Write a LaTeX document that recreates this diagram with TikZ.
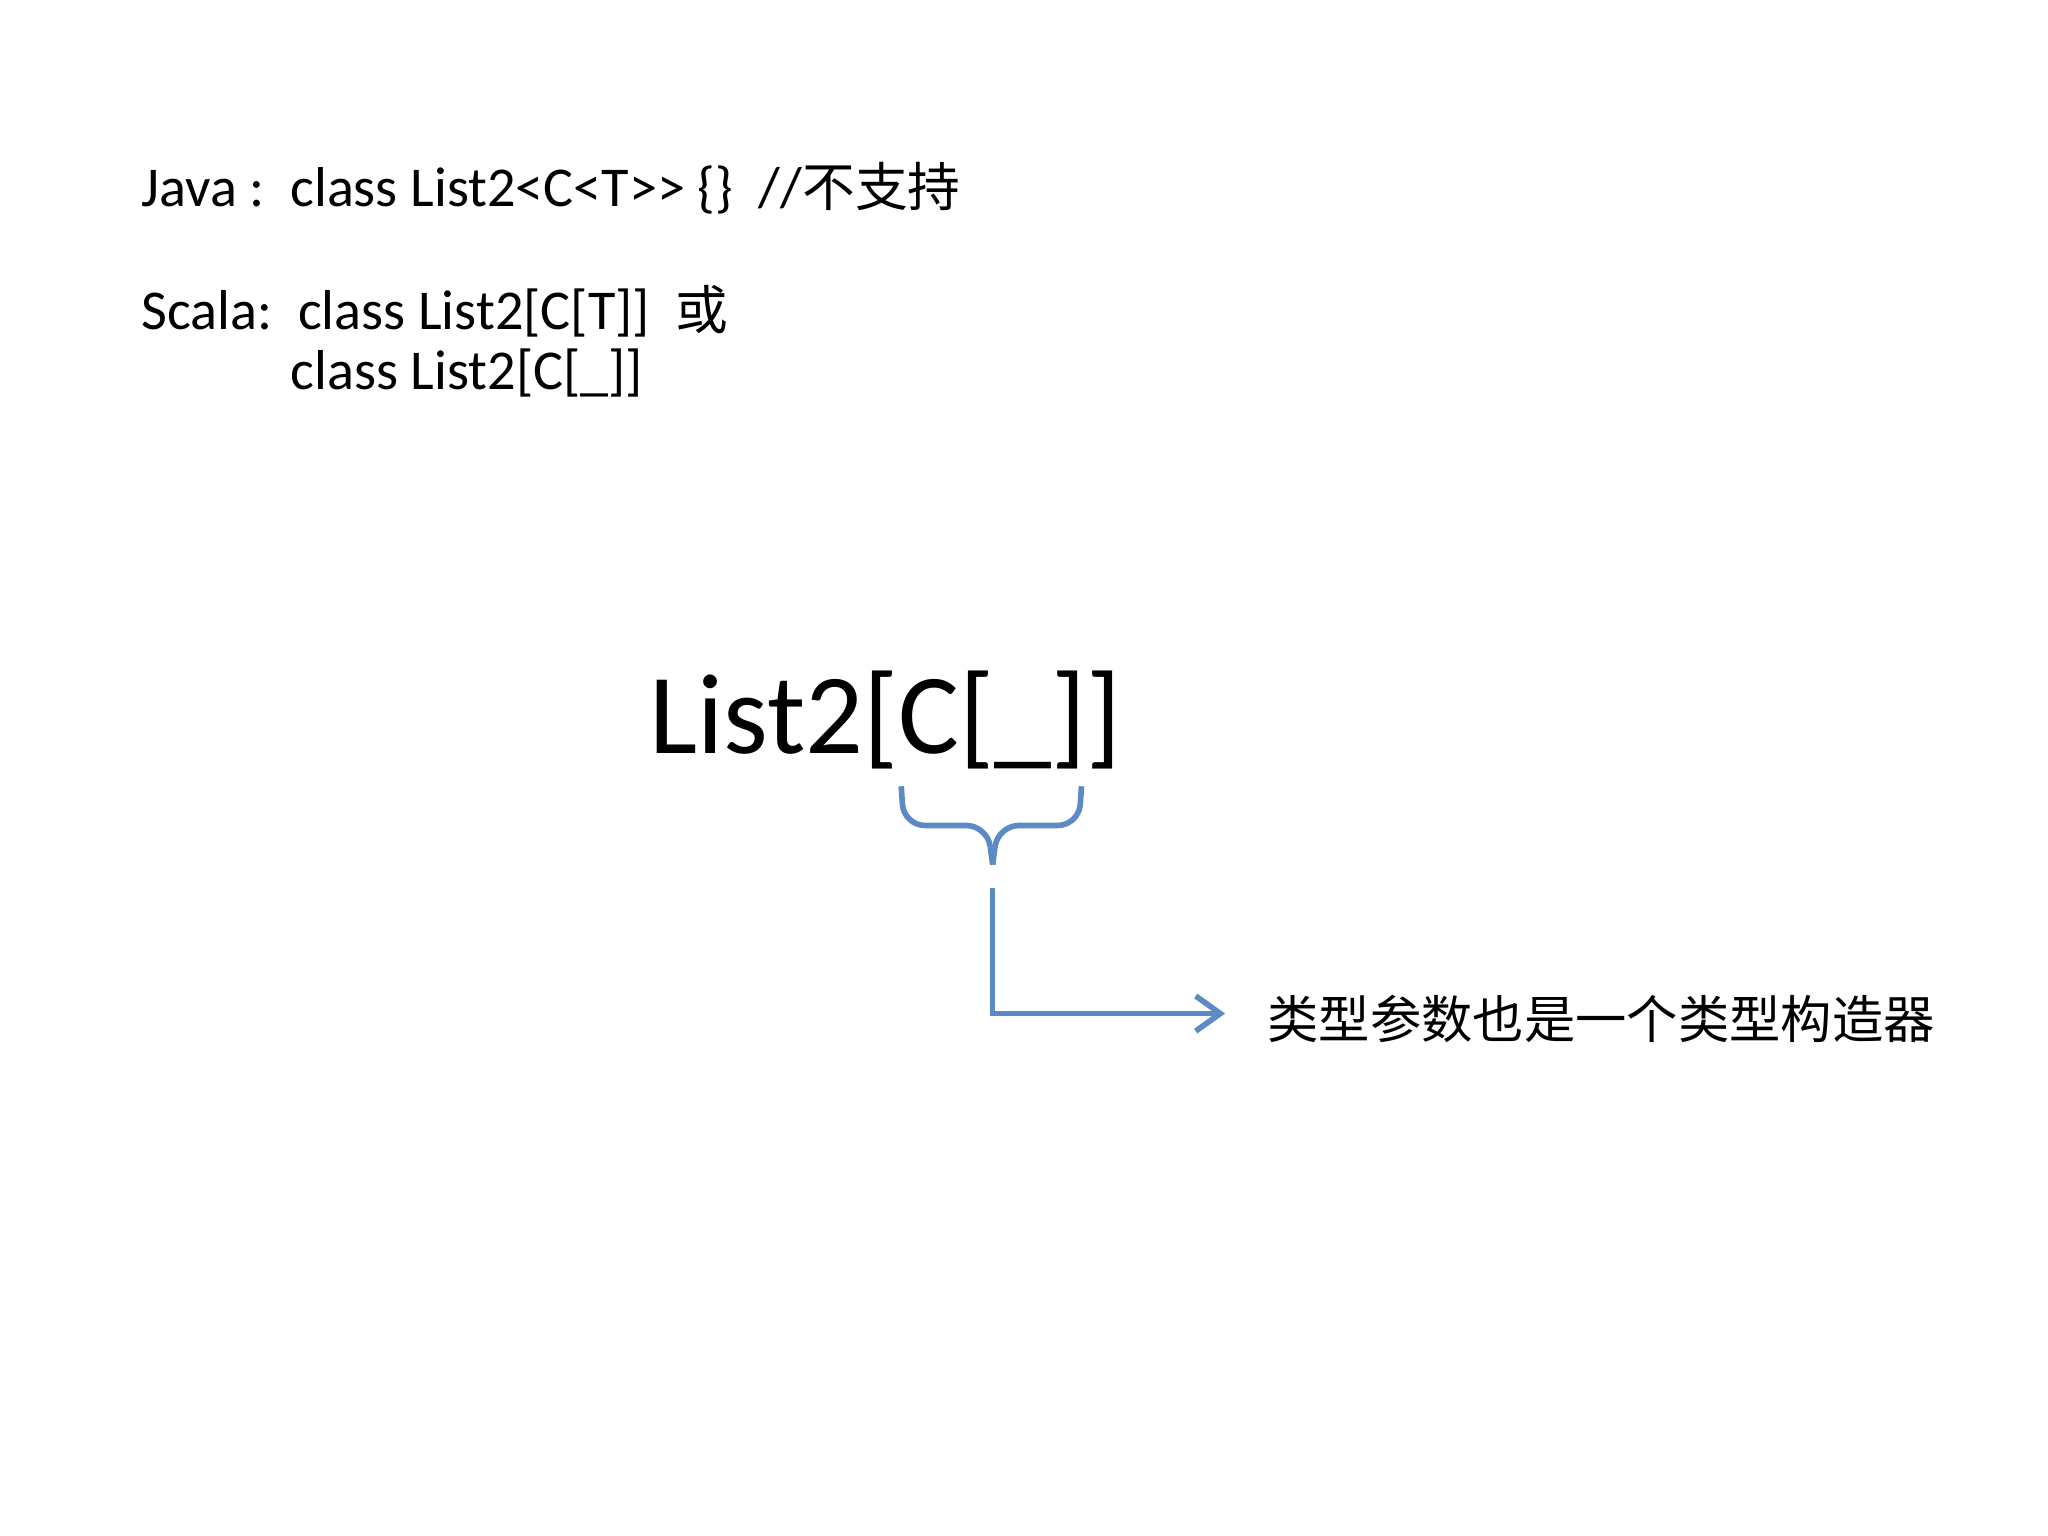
\documentclass[tikz,border=0pt]{standalone}
\usepackage{fontspec}
\setmainfont{Carlito}[Ligatures=NoCommon]
\newfontfamily\cjk{Noto Sans CJK SC}
\definecolor{lnblue}{RGB}{91,138,196}
\usetikzlibrary{arrows.meta}
\begin{document}
\begin{tikzpicture}[x=0.01306cm,y=-0.01306cm,
  txt/.style={anchor=base west,inner sep=0pt,font=\fontsize{16}{20}\selectfont},
  conn/.style={draw=lnblue,line width=1.6pt}]
\useasboundingbox (0,0) rectangle (1568,1176);
\node[txt] (java) at (108,158) {Java :\ \ class List2<C<T{>}{>} \{\}\ \ //{\cjk\fontsize{15}{20}\selectfont 不支持}};
\node[txt] (scala) at (108,252) {Scala:\ \ class List2[C[T]]\ \ {\cjk\fontsize{15}{20}\selectfont 或}};
\node[txt] (scala2) at (222,298) {class List2[C[\_]]};
\node[anchor=base west,inner sep=0pt,font=\fontsize{32.5}{40}\selectfont] (big) at (497,577) {List2[C[\_]]};
\draw[conn,rounded corners=6] (690,602) -- (692,632) -- (756,632) -- (760,662);
\draw[conn,rounded corners=6] (828,602) -- (826,632) -- (764,632) -- (760,662);
\node[anchor=west,inner sep=0pt,font=\cjk\fontsize{14.6}{20}\selectfont] (lab) at (970,780) {类型参数也是一个类型构造器};
\coordinate (s) at (760,680);
\draw[conn,-{Straight Barb[length=7pt,width=10pt]}] (s) -- (760,776) -- (938,776);
\end{tikzpicture}
\end{document}
